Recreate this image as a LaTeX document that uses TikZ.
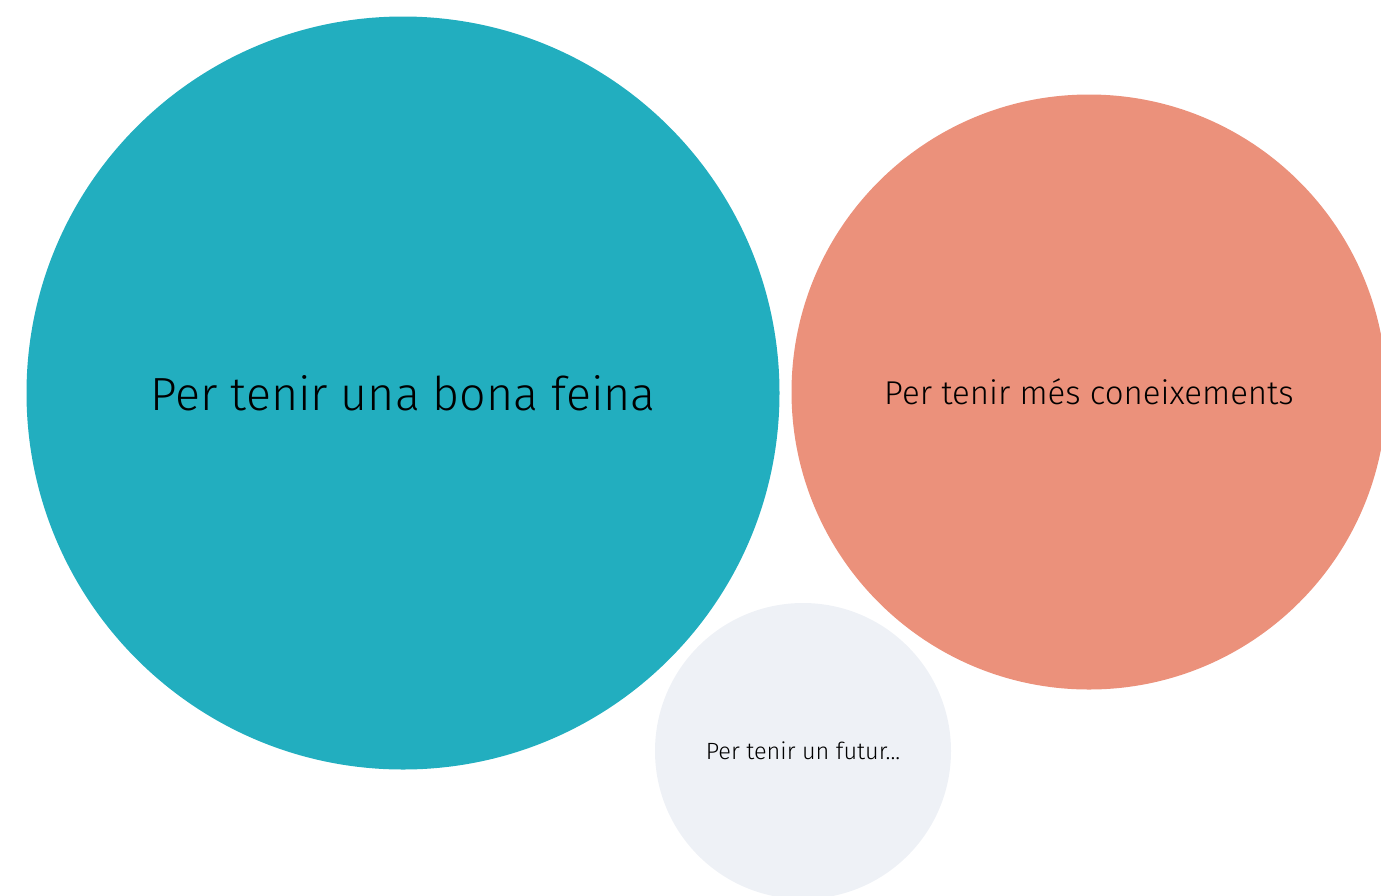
\documentclass[tikz,border=0pt]{standalone}
\usepackage{xcolor}
\usepackage{fontspec}
\setmainfont{Fira Sans}[UprightFont=* Light]
\usepackage{tikz}

\definecolor{bubbleteal}{HTML}{22AEBF}
\definecolor{bubblesalmon}{HTML}{EB917B}
\definecolor{bubblegray}{HTML}{EEF1F6}

\tikzset{
  bubble/.style={circle, inner sep=0pt, text=black},
}

\begin{document}
\begin{tikzpicture}[x=1pt,y=-1pt]
\useasboundingbox (0,0) rectangle (1381,895);
\clip (0,0) rectangle (1381,895);

\node[bubble, fill=bubbleteal, minimum size=753pt,
  font=\fontsize{46.5}{54}\selectfont] (feina) at (403,393) {Per tenir una bona feina};
\node[bubble, fill=bubblesalmon, minimum size=595pt,
  font=\fontsize{33}{40}\selectfont] (coneix) at (1089,392) {Per tenir més coneixements};
\node[bubble, fill=bubblegray, minimum size=296pt,
  font=\fontsize{23.5}{28}\selectfont] (futur) at (803,751) {Per tenir un futur...};
\end{tikzpicture}
\end{document}
